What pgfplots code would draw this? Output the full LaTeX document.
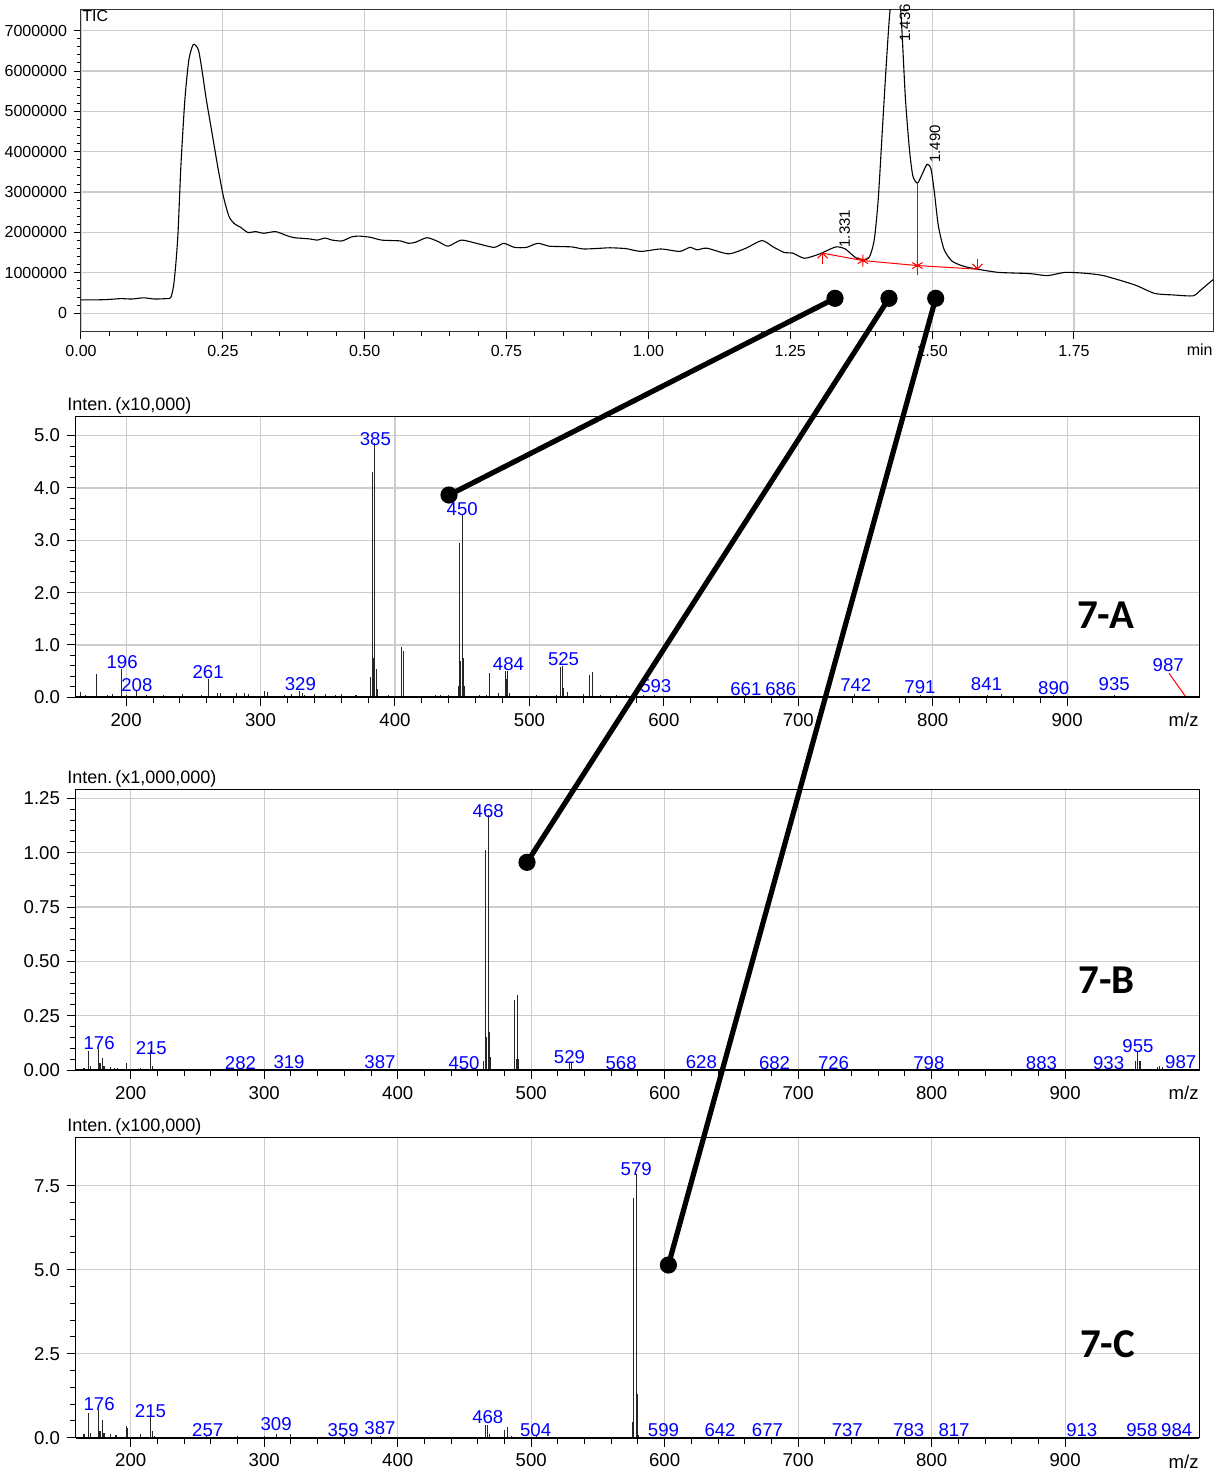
\documentclass[border=0pt]{standalone}
\usepackage{fontspec}
\setmainfont{Liberation Sans}
\newfontfamily\labfont{Carlito}
\usepackage{pgfplots}
\pgfplotsset{compat=1.18}
\usetikzlibrary{arrows.meta}

\pgfplotsset{
  spec/.style={
    anchor=south west, scale only axis, width=561.5pt, ymin=0,
    xtick={200,300,...,900}, minor x tick num=4, minor y tick num=4,
    tick align=outside, xtick pos=bottom, ytick pos=left,
    major tick length=4.5pt, minor tick length=3pt,
    grid=major, major grid style={gray!40, line width=0.6pt},
    axis line style={black, line width=0.5pt},
    tick style={black, line width=0.5pt},
    ticklabel style={font=\fontsize{9.3}{10}\selectfont},
    /pgf/number format/assume math mode=true,
    yticklabel style={/pgf/number format/fixed, /pgf/number format/fixed zerofill},
    clip mode=individual,
  },
  stem/.style={ycomb, black!85, line width=0.55pt, no marks},
}
\tikzset{
  pklab/.style={text=blue, font=\fontsize{9.3}{10}\selectfont, inner sep=0pt},
  tag/.style={font=\labfont\bfseries\fontsize{20.5}{22}\selectfont, inner sep=0pt},
}
\newcommand{\pk}[3]{\node[pklab] at (axis cs:#1,#2) {#3};}

\begin{document}
\begin{tikzpicture}
\useasboundingbox (0pt,0pt) rectangle (610pt,-736.5pt);

% ---------------- TIC chromatogram ----------------
\begin{axis}[
  at={(40.5pt,-165.85pt)}, anchor=south west, scale only axis,
  width=566pt, height=161.2pt,
  xmin=0, xmax=1.995, ymin=-460000, ymax=7530000,
  xtick={0,0.25,0.5,0.75,1,1.25,1.5,1.75}, minor x tick num=4,
  ytick={0,1000000,2000000,3000000,4000000,5000000,6000000,7000000}, minor y tick num=4,
  scaled y ticks=false, scaled x ticks=false,
  yticklabel style={/pgf/number format/fixed, /pgf/number format/1000 sep={}},
  xticklabel style={/pgf/number format/fixed, /pgf/number format/fixed zerofill, /pgf/number format/precision=2},
  ticklabel style={font=\fontsize{8}{9}\selectfont},
  /pgf/number format/assume math mode=true,
  tick align=outside, xtick pos=bottom, ytick pos=left,
  major tick length=3.5pt, minor tick length=2pt,
  tick style={black, line width=0.5pt},
  grid=major, major grid style={gray!40, line width=0.6pt},
  axis line style={black!80, line width=0.5pt},
  clip mode=individual,
]
\addplot[black, line width=0.55pt, smooth, tension=0.4, no marks] coordinates {
(0.000,0.33e6)(0.030,0.33e6)(0.050,0.34e6)(0.070,0.36e6)(0.090,0.35e6)(0.110,0.38e6)
(0.130,0.35e6)(0.150,0.36e6)(0.158,0.38e6)(0.163,0.66e6)(0.167,1.2e6)(0.171,1.99e6)
(0.176,3.63e6)(0.183,5.28e6)(0.190,6.27e6)(0.198,6.66e6)(0.207,6.52e6)(0.214,5.95e6)
(0.221,5.28e6)(0.231,4.46e6)(0.241,3.63e6)(0.251,2.89e6)(0.261,2.39e6)(0.271,2.21e6)
(0.281,2.13e6)(0.294,2.00e6)(0.308,2.02e6)(0.322,1.98e6)(0.343,2.02e6)(0.363,1.92e6)
(0.376,1.87e6)(0.403,1.84e6)(0.416,1.81e6)(0.430,1.86e6)(0.443,1.81e6)(0.460,1.79e6)
(0.477,1.89e6)(0.490,1.91e6)(0.510,1.88e6)(0.530,1.81e6)(0.563,1.79e6)(0.577,1.73e6)
(0.590,1.76e6)(0.610,1.87e6)(0.630,1.77e6)(0.647,1.66e6)(0.670,1.81e6)(0.697,1.73e6)
(0.728,1.63e6)(0.745,1.73e6)(0.764,1.63e6)(0.785,1.63e6)(0.805,1.73e6)(0.825,1.66e6)
(0.845,1.65e6)(0.866,1.64e6)(0.886,1.59e6)(0.918,1.61e6)(0.932,1.62e6)(0.960,1.60e6)
(0.987,1.53e6)(1.022,1.59e6)(1.055,1.53e6)(1.073,1.63e6)(1.086,1.57e6)(1.103,1.61e6)
(1.141,1.47e6)(1.172,1.61e6)(1.200,1.80e6)(1.220,1.64e6)(1.240,1.50e6)(1.254,1.49e6)
(1.275,1.36e6)(1.302,1.47e6)(1.330,1.64e6)(1.347,1.59e6)(1.367,1.36e6)(1.388,1.36e6)
(1.398,1.82e6)(1.405,2.82e6)(1.412,4.47e6)(1.419,6.12e6)(1.426,7.53e6)(1.436,8.30e6)
(1.444,7.60e6)(1.447,6.95e6)(1.453,5.30e6)(1.460,4.06e6)(1.466,3.40e6)(1.474,3.22e6)
(1.481,3.40e6)(1.491,3.69e6)(1.498,3.57e6)(1.504,2.99e6)(1.511,2.16e6)(1.521,1.58e6)
(1.535,1.29e6)(1.556,1.16e6)(1.580,1.09e6)(1.617,1.01e6)(1.672,0.98e6)(1.703,0.93e6)
(1.734,1.01e6)(1.768,0.99e6)(1.802,0.93e6)(1.857,0.70e6)(1.892,0.49e6)(1.926,0.45e6)
(1.960,0.43e6)(1.974,0.58e6)(1.995,0.83e6)
};
% integration baseline
\addplot[red, line width=0.5pt, no marks] coordinates {(1.307,1.486e6)(1.378,1.303e6)(1.474,1.179e6)(1.580,1.09e6)};
\addplot[red, line width=0.5pt, only marks, mark=asterisk, mark size=3pt] coordinates {(1.378,1.303e6)(1.474,1.179e6)};
\addplot[color=red, line width=0.7pt, no marks] coordinates {(1.474,0.95e6)(1.474,3.22e6)};
\addplot[red, line width=0.5pt, no marks, -{Straight Barb[length=2.5pt,width=5pt]}] coordinates {(1.307,1.22e6)(1.307,1.50e6)};
\addplot[red, line width=0.5pt, no marks, -{Straight Barb[length=2.5pt,width=5pt]}] coordinates {(1.580,1.33e6)(1.580,1.08e6)};
\node[anchor=north west, inner sep=0.5pt, font=\fontsize{8}{9}\selectfont] at (rel axis cs:0,1) {TIC};
\node[rotate=90, anchor=west, inner sep=0pt, font=\fontsize{7.5}{8}\selectfont] at (axis cs:1.346,1.62e6) {1.331};
\node[rotate=90, anchor=west, inner sep=0pt, font=\fontsize{7.5}{8}\selectfont] at (axis cs:1.452,6.72e6) {1.436};
\node[rotate=90, anchor=west, inner sep=0pt, font=\fontsize{7.5}{8}\selectfont] at (axis cs:1.505,3.72e6) {1.490};
\end{axis}
\node[anchor=east, inner sep=0pt, font=\fontsize{8}{9}\selectfont] at (606.5pt,-174.65pt) {min};

% ---------------- 7-A ----------------
\begin{axis}[spec, at={(38pt,-348.65pt)}, height=140.3pt,
  xmin=162.7, xmax=998.1, ymax=5.36, ytick={0,1,2,3,4,5},
  yticklabel style={/pgf/number format/precision=1}]
\addplot[stem] coordinates {
(166,0.10)(170,0.05)(178,0.45)(186,0.04)(190,0.06)(196.5,0.55)(200,0.05)(208,0.12)(215,0.04)
(228,0.05)(242,0.07)(256,0.04)(261,0.35)(268,0.08)(270,0.09)(282,0.08)(288,0.09)(291,0.06)
(303,0.12)(305,0.10)(318,0.05)(323,0.06)(329,0.12)(331,0.08)(333,0.05)(340,0.06)(348,0.06)
(356,0.05)(360,0.06)(371,0.04)(382,0.38)(383,4.30)(384,0.75)(385,4.85)(386,0.55)(387,0.15)
(395,0.04)(405,0.97)(406.5,0.88)(418,0.03)(430,0.04)(434,0.05)(440,0.04)(447,0.22)(448,2.95)
(449,0.70)(450,3.50)(451,0.75)(452,0.22)(463,0.04)(468,0.05)(470,0.47)(477,0.08)(482,0.50)
(483,0.35)(484,0.50)(485,0.08)(490,0.03)(505,0.05)(512,0.03)(520,0.04)(523,0.58)(524.5,0.60)
(525.5,0.18)(528,0.10)(540,0.06)(545,0.43)(547,0.48)(553,0.04)(565,0.05)(572,0.04)(585,0.04)
(593,0.05)(610,0.03)(628,0.03)(645,0.03)(661,0.04)(686,0.04)(703,0.03)(742,0.06)(760,0.03)
(791,0.04)(815,0.03)(841,0.04)(851,0.06)(870,0.03)(890,0.04)(935,0.05)(960,0.03)(975,0.03)
};
\addplot[red, line width=0.5pt, no marks] coordinates {(975.8,0.46)(987.9,0.02)};
\draw[line width=1pt] (rel axis cs:0,0) -- (rel axis cs:1,0);
\pk{197}{0.67}{196}\pk{208}{0.23}{208}\pk{261}{0.48}{261}\pk{329.6}{0.25}{329}
\pk{385.4}{4.93}{385}\pk{450}{3.6}{450}\pk{484.4}{0.63}{484}\pk{525.4}{0.73}{525}
\pk{594}{0.21}{593}\pk{661}{0.15}{661}\pk{687}{0.15}{686}\pk{742.8}{0.23}{742}
\pk{790.5}{0.19}{791}\pk{840}{0.25}{841}\pk{890}{0.17}{890}\pk{935}{0.25}{935}
\pk{975.2}{0.61}{987}
\node[tag] at (axis cs:928.5,1.56) {7-A};
\end{axis}
\node[anchor=west, inner sep=0pt, font=\fontsize{9}{10}\selectfont] at (33.5pt,-202.85pt) {Inten.\,(x10,000)};
\node[anchor=east, inner sep=0pt, font=\fontsize{9.3}{10}\selectfont] at (599.5pt,-360pt) {m/z};

% ---------------- 7-B ----------------
\begin{axis}[spec, at={(38pt,-535pt)}, height=140.5pt,
  xmin=159, xmax=1000.3, ymax=1.293, ytick={0,0.25,0.5,0.75,1,1.25},
  yticklabel style={/pgf/number format/precision=2}]
\addplot[stem] coordinates {
(165,0.008)(168.5,0.088)(170,0.02)(176,0.097)(177,0.03)(179,0.054)(180,0.02)(185,0.015)
(188,0.008)(190,0.01)(196.5,0.034)(207,0.01)(215,0.092)(216,0.02)(227,0.005)(245,0.004)
(282,0.004)(319,0.005)(350,0.004)(387,0.006)(420,0.004)(450,0.006)(464.5,0.04)(465.7,1.012)
(466.6,0.15)(467.8,1.175)(468.6,0.177)(469.5,0.06)(487.6,0.321)(488.8,0.05)(489.6,0.346)
(490.5,0.05)(505,0.006)(529,0.03)(530.5,0.03)(568,0.004)(610,0.005)(628,0.004)(682,0.003)
(726,0.003)(798,0.003)(883,0.003)(933,0.004)(952.5,0.04)(954,0.085)(955.8,0.04)(956.7,0.04)
(969,0.015)(971,0.02)(973,0.012)(987,0.005)
};
\draw[line width=1pt] (rel axis cs:0,0) -- (rel axis cs:1,0);
\pk{176.3}{0.123}{176}\pk{215.4}{0.103}{215}\pk{282.2}{0.03}{282}\pk{318.6}{0.038}{319}
\pk{386.7}{0.035}{387}\pk{449.7}{0.03}{450}\pk{467.8}{1.19}{468}\pk{528.7}{0.061}{529}
\pk{567.4}{0.03}{568}\pk{627.5}{0.035}{628}\pk{682.3}{0.03}{682}\pk{726.5}{0.03}{726}
\pk{797.9}{0.03}{798}\pk{882.3}{0.03}{883}\pk{932.6}{0.034}{933}\pk{954.6}{0.112}{955}
\pk{986.6}{0.038}{987}
\node[tag] at (axis cs:931.2,0.415) {7-B};
\end{axis}
\node[anchor=west, inner sep=0pt, font=\fontsize{9}{10}\selectfont] at (33.5pt,-389.5pt) {Inten.\,(x1,000,000)};
\node[anchor=east, inner sep=0pt, font=\fontsize{9.3}{10}\selectfont] at (599.5pt,-546.5pt) {m/z};

% ---------------- 7-C ----------------
\begin{axis}[spec, at={(38pt,-718.85pt)}, height=150.2pt,
  xmin=159, xmax=1000.3, ymax=8.94, ytick={0,2.5,5,7.5},
  yticklabel style={/pgf/number format/precision=1}]
\addplot[stem] coordinates {
(165,0.1)(168.5,0.73)(170,0.15)(176,0.83)(177,0.2)(179,0.53)(180,0.15)(185,0.12)(189,0.08)
(196.5,0.35)(197.5,0.3)(207,0.1)(215,0.63)(216,0.2)(218,0.05)(240,0.03)(257,0.05)(280,0.04)
(300,0.06)(309,0.12)(320,0.1)(359,0.04)(387,0.05)(466,0.38)(467.5,0.38)(468.5,0.1)(480,0.23)
(482,0.33)(485,0.05)(504,0.04)(576,0.48)(576.9,7.13)(578.7,7.85)(579.3,1.08)(579.9,1.3)
(580.7,0.08)(599,0.03)(642,0.03)(677,0.03)(737,0.03)(783,0.03)(817,0.03)(913,0.03)(958,0.03)(984,0.03)
};
\draw[line width=1pt] (rel axis cs:0,0) -- (rel axis cs:1,0);
\pk{176.3}{1.0}{176}\pk{214.8}{0.78}{215}\pk{257.7}{0.23}{257}\pk{308.9}{0.4}{309}
\pk{359.2}{0.23}{359}\pk{386.7}{0.28}{387}\pk{467.5}{0.6}{468}\pk{503.3}{0.23}{504}
\pk{578.7}{8.0}{579}\pk{599.1}{0.23}{599}\pk{641.5}{0.23}{642}\pk{677}{0.23}{677}
\pk{736.8}{0.23}{737}\pk{782.8}{0.23}{783}\pk{816.8}{0.23}{817}\pk{912.5}{0.23}{913}
\pk{957.5}{0.23}{958}\pk{983.6}{0.23}{984}
\node[tag] at (axis cs:931.8,2.77) {7-C};
\end{axis}
\node[anchor=west, inner sep=0pt, font=\fontsize{9}{10}\selectfont] at (33.5pt,-563.65pt) {Inten.\,(x100,000)};
\node[anchor=east, inner sep=0pt, font=\fontsize{9.3}{10}\selectfont] at (599.5pt,-730.85pt) {m/z};

% ---------------- connectors ----------------
\draw[line width=2.6pt] (417.5pt,-149.15pt) -- (224.5pt,-247.5pt);
\draw[line width=2.6pt] (444.5pt,-149.15pt) -- (263.5pt,-431.15pt);
\draw[line width=2.6pt] (467.85pt,-149.15pt) -- (334.2pt,-632.5pt);
\foreach \p in {(417.5pt,-149.15pt),(224.5pt,-247.5pt),(444.5pt,-149.15pt),(263.5pt,-431.15pt),(467.85pt,-149.15pt),(334.2pt,-632.5pt)}
  \fill \p circle[radius=4.3pt];
\end{tikzpicture}
\end{document}
